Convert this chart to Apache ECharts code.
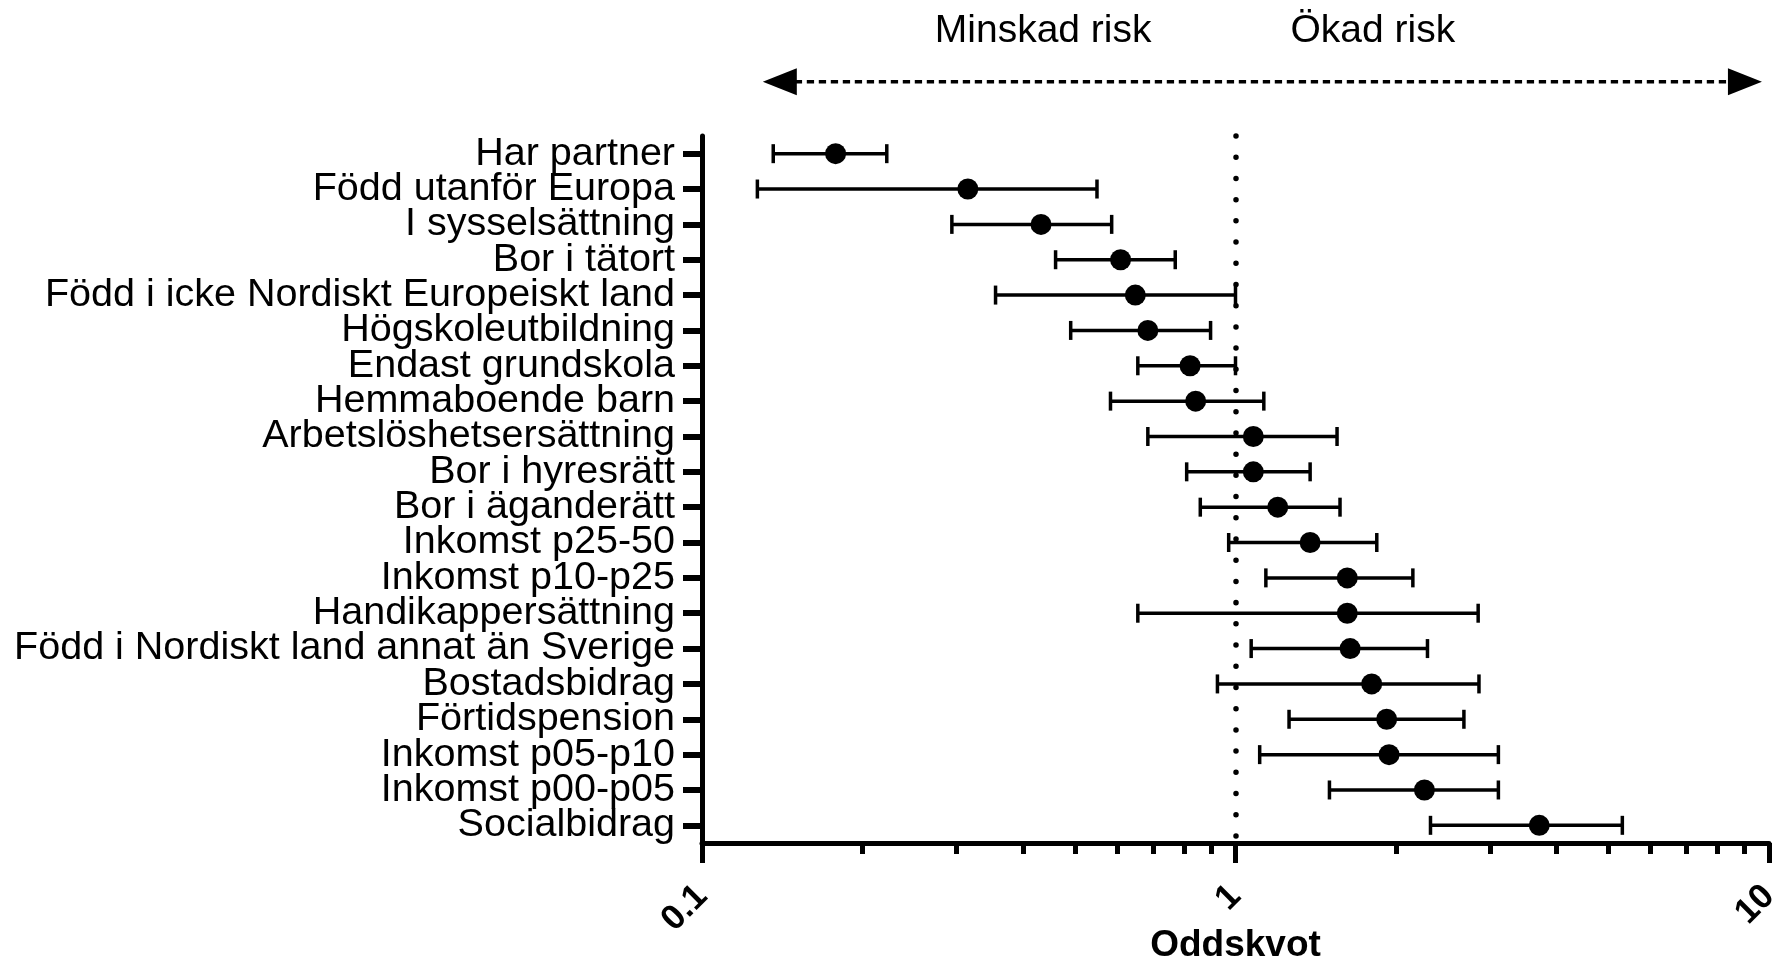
<!DOCTYPE html>
<html><head><meta charset="utf-8">
<script src="https://cdn.jsdelivr.net/npm/echarts@6/dist/echarts.min.js"></script>
<style>html,body{margin:0;padding:0;background:#fff}#c{width:1780px;height:962px}</style>
</head><body><div id="c"></div>
<script>
const categories = [
  'Har partner','Född utanför Europa','I sysselsättning','Bor i tätort',
  'Född i icke Nordiskt Europeiskt land','Högskoleutbildning','Endast grundskola',
  'Hemmaboende barn','Arbetslöshetsersättning','Bor i hyresrätt','Bor i äganderätt',
  'Inkomst p25-50','Inkomst p10-p25','Handikappersättning',
  'Född i Nordiskt land annat än Sverige','Bostadsbidrag','Förtidspension',
  'Inkomst p05-p10','Inkomst p00-p05','Socialbidrag'
];
const oddsRatio = [0.178,0.315,0.432,0.609,0.649,0.685,0.822,0.842,1.08,1.08,1.20,1.38,1.62,1.62,1.64,1.80,1.92,1.94,2.26,3.71];
const ciLow     = [0.136,0.127,0.294,0.460,0.355,0.491,0.656,0.583,0.685,0.810,0.859,0.971,1.14,0.656,1.07,0.925,1.26,1.11,1.50,2.32];
const ciHigh    = [0.222,0.550,0.586,0.771,1.00,0.898,1.00,1.13,1.55,1.38,1.57,1.84,2.15,2.85,2.29,2.86,2.68,3.11,3.11,5.31];
const majorTicks = [0.1, 1, 10];
const minorTicks = [0.2,0.3,0.4,0.5,0.6,0.7,0.8,0.9,2,3,4,5,6,7,8,9];
const referenceValue = 1;
const arrowRange = [0.13, 9.7];
const riskLabels = ['Minskad risk', 'Ökad risk'];
const axisName = 'Oddskvot';

const FONT = "'Liberation Sans', Arial, Helvetica, sans-serif";
const chart = echarts.init(document.getElementById('c'), null, {renderer:'canvas'});

const option = {
  backgroundColor: '#fff',
  animation: false,
  grid: {left: 702, right: 11, top: 136, bottom: 119, containLabel: false, outerBoundsMode: 'none'},
  xAxis: [{
    type: 'log', logBase: 10, min: 0.1, max: 10,
    axisLine: {show: true, onZero: false, lineStyle: {color: '#000', width: 5}},
    axisTick: {show: true, length: 20, customValues: majorTicks, lineStyle: {color: '#000', width: 5}},
    axisLabel: {show: true, rotate: 45, margin: 48, fontSize: 35, fontWeight: 'bold', color: '#000',
      fontFamily: FONT, customValues: majorTicks, formatter: v => String(+v.toPrecision(6))},
    splitLine: {show: false},
    name: axisName, nameLocation: 'middle', nameGap: 84, nameMoveOverlap: false,
    nameTextStyle: {fontSize: 37, fontWeight: 'bold', color: '#000', fontFamily: FONT}
  }, {
    type: 'log', logBase: 10, min: 0.1, max: 10, position: 'bottom', offset: 0,
    axisLine: {show: false, onZero: false},
    axisTick: {show: true, length: 11, customValues: minorTicks, lineStyle: {color: '#000', width: 5}},
    axisLabel: {show: false},
    splitLine: {show: false}
  }],
  yAxis: {
    type: 'category', data: categories, inverse: true, boundaryGap: true,
    axisLine: {show: true, onZero: false, lineStyle: {color: '#000', width: 5}},
    axisTick: {show: true, alignWithLabel: true, interval: 0, length: 19, lineStyle: {color: '#000', width: 6}},
    axisLabel: {show: true, interval: 0, fontSize: 39.5, color: '#000', margin: 27, fontFamily: FONT},
    splitLine: {show: false}
  },
  series: [{
    type: 'custom',
    xAxisIndex: 0,
    encode: {x: [1, 2], y: 0},
    data: categories.map((c, i) => [i, ciLow[i], ciHigh[i]]),
    renderItem: function (params, api) {
      const idx = api.value(0);
      const a = api.coord([api.value(1), idx]);
      const b = api.coord([api.value(2), idx]);
      const h = 9.5;
      const st = {stroke: '#000', lineWidth: 3.5};
      return {type: 'group', children: [
        {type: 'line', shape: {x1: a[0], y1: a[1], x2: b[0], y2: b[1]}, style: st},
        {type: 'line', shape: {x1: a[0], y1: a[1] - h, x2: a[0], y2: a[1] + h}, style: st},
        {type: 'line', shape: {x1: b[0], y1: b[1] - h, x2: b[0], y2: b[1] + h}, style: st}
      ]};
    },
    silent: true, z: 2
  }, {
    type: 'scatter',
    xAxisIndex: 0,
    data: categories.map((c, i) => [oddsRatio[i], c]),
    symbol: 'circle', symbolSize: 21,
    itemStyle: {color: '#000', opacity: 1, borderWidth: 0},
    silent: true, z: 3,
    markLine: {
      silent: true, symbol: 'none', label: {show: false},
      lineStyle: {color: '#000', width: 5.5, type: [0.01, 21.2], cap: 'round', opacity: 1},
      data: [{xAxis: referenceValue}]
    }
  }]
};
chart.setOption(option);

const xL = chart.convertToPixel({xAxisIndex: 0}, arrowRange[0]);
const xR = chart.convertToPixel({xAxisIndex: 0}, arrowRange[1]);
const x1 = chart.convertToPixel({xAxisIndex: 0}, referenceValue);
const ay = 81.7, headLen = 34, headHalf = 13.5;
chart.setOption({
  graphic: [
    {type: 'line', shape: {x1: xL + headLen - 2, y1: ay, x2: xR - headLen + 2, y2: ay},
      style: {stroke: '#000', lineWidth: 3.5, lineDash: [7.3, 4.7]}},
    {type: 'polygon', shape: {points: [[xL, ay], [xL + headLen, ay - headHalf], [xL + headLen, ay + headHalf]]},
      style: {fill: '#000'}},
    {type: 'polygon', shape: {points: [[xR, ay], [xR - headLen, ay - headHalf], [xR - headLen, ay + headHalf]]},
      style: {fill: '#000'}},
    {type: 'text', x: x1 - 84, y: 31,
      style: {text: riskLabels[0], font: '39px ' + FONT, fill: '#000', textAlign: 'right', textVerticalAlign: 'middle'}},
    {type: 'text', x: x1 + 55, y: 31,
      style: {text: riskLabels[1], font: '39px ' + FONT, fill: '#000', textAlign: 'left', textVerticalAlign: 'middle'}}
  ]
});
</script>
</body></html>
